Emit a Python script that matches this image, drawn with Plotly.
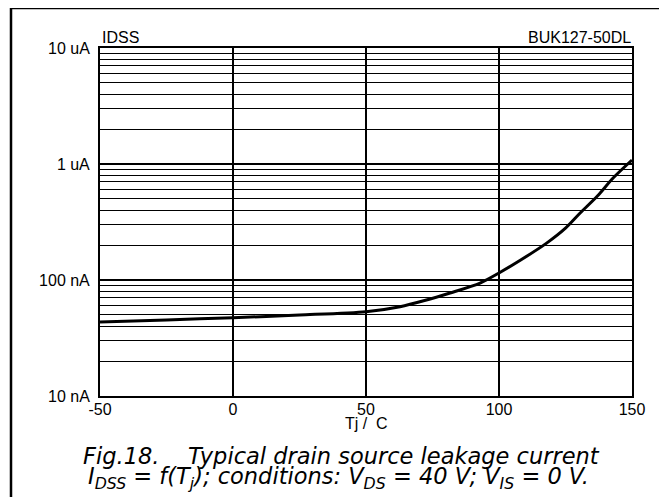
import plotly.graph_objects as go

# Data (Tj in degC, IDSS in nA)
tj = [-50, -25, 0, 25, 50, 62.8, 72, 81.6, 92.9, 100, 108, 117.9, 125, 130.5, 137, 142.9, 150]
idss_na = [43.4, 45.3, 47.3, 49.9, 53.3, 58.9, 66.5, 77.3, 94.2, 115, 148, 208, 280, 378, 530, 757, 1082]

x_ticks = [-50, 0, 50, 100, 150]
x_tick_text = ["-50", "0", "50", "100", "150"]
y_ticks = [10, 100, 1000, 10000]
y_tick_text = ["10 nA", "100 nA", "1 uA", "10 uA"]
y_minor = [m * d for d in (10, 100, 1000) for m in range(2, 10)]

FONT = "Liberation Sans, Arial, sans-serif"
CAP_FONT = "DejaVu Sans, Liberation Sans, sans-serif"

fig = go.Figure()
fig.add_trace(go.Scatter(
    x=tj, y=idss_na, mode="lines",
    line=dict(color="black", width=3, shape="spline", smoothing=0.8),
    showlegend=False, hoverinfo="skip",
))

# page has an 8px body margin: figure sized so that the page is 667x497
OFF = 8
W, H = 667 - OFF, 497 - OFF
L, R, T, B = 100 - OFF, 667 - 632, 48 - OFF, 497 - 396
pw, ph = W - L - R, H - T - B

def px(x):  # page pixel x -> paper
    return (x - OFF - L) / pw

def py(y):  # page pixel y -> paper
    return (H - B - (y - OFF)) / ph

fig.update_layout(
    width=W, height=H,
    margin=dict(l=L, r=R, t=T, b=B),
    paper_bgcolor="white", plot_bgcolor="white",
    font=dict(family=FONT, size=16, color="black"),
    xaxis=dict(
        range=[-50, 150], tickmode="array", tickvals=x_ticks, ticktext=x_tick_text,
        ticks="", showgrid=True, gridcolor="black", gridwidth=1.5,
        showline=True, linecolor="black", linewidth=2, mirror=True,
        zeroline=False, tickfont=dict(size=16), automargin=False,
        ticklabelstandoff=-2,
    ),
    yaxis=dict(
        type="log", range=[1, 4], tickmode="array", tickvals=y_ticks,
        ticktext=y_tick_text, ticks="", showgrid=True, gridcolor="black",
        gridwidth=2, showline=True, linecolor="black", linewidth=2,
        mirror=True, zeroline=False, tickfont=dict(size=16), ticklabelstandoff=5,
        automargin=False,
        minor=dict(tickmode="array", tickvals=y_minor, showgrid=True,
                   gridcolor="black", gridwidth=1, ticks=""),
    ),
    shapes=[dict(
        type="rect", xref="paper", yref="paper",
        x0=px(11), x1=px(661), y0=py(520), y1=py(8),
        line=dict(color="black", width=2.5), fillcolor="rgba(0,0,0,0)",
        layer="above",
    )],
    annotations=[
        dict(text="IDSS", xref="paper", yref="paper", x=px(100), y=py(37),
             xanchor="left", yanchor="middle", showarrow=False,
             font=dict(size=16)),
        dict(text="BUK127-50DL", xref="paper", yref="paper", x=px(633), y=py(37),
             xanchor="right", yanchor="middle", showarrow=False,
             font=dict(size=16)),
        dict(text="Tj /&nbsp; C", xref="paper", yref="paper", x=px(366), y=py(423),
             xanchor="center", yanchor="middle", showarrow=False,
             font=dict(size=16)),
        dict(text="<i>Fig.18.&nbsp;&nbsp;&nbsp;&nbsp;Typical drain source leakage current</i>",
             xref="paper", yref="paper", x=px(341), y=py(456),
             xanchor="center", yanchor="middle", showarrow=False,
             font=dict(size=22.5, family=CAP_FONT)),
        dict(text="<i>I<sub>DSS</sub> = f(T<sub>j</sub>); conditions: V<sub>DS</sub> = 40 V; V<sub>IS</sub> = 0 V.</i>",
             xref="paper", yref="paper", x=px(338), y=py(478),
             xanchor="center", yanchor="middle", showarrow=False,
             font=dict(size=22.5, family=CAP_FONT)),
    ],
)

fig.write_html("out.html")
